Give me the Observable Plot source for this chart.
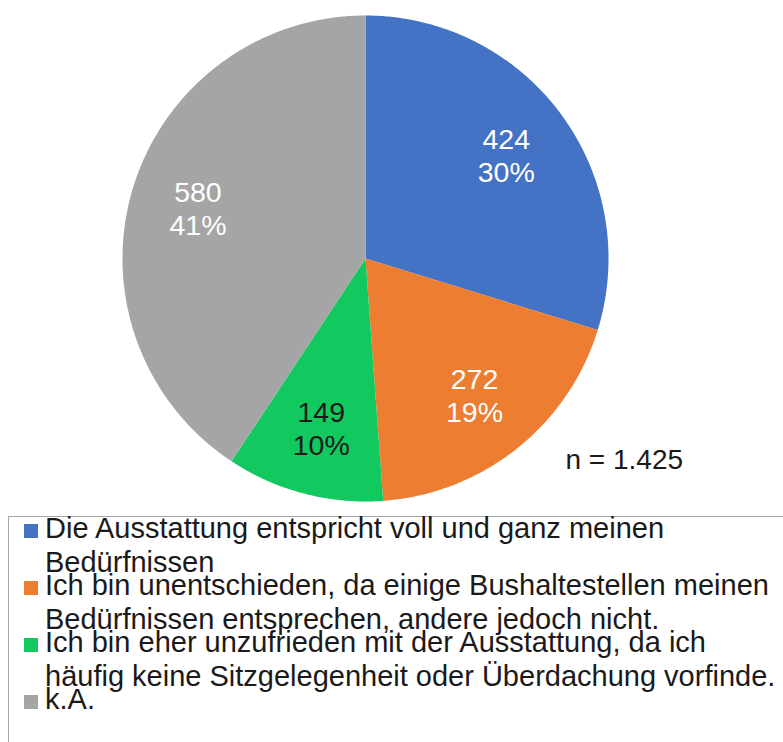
<!DOCTYPE html>
<html>
<head>
<meta charset="utf-8">
<script src="https://cdn.jsdelivr.net/npm/d3@7"></script>
<script src="https://cdn.jsdelivr.net/npm/@observablehq/plot@0.6"></script>
<style>
  html, body { margin: 0; padding: 0; background: #fff; }
  #wrap { position: relative; width: 783px; height: 742px; overflow: hidden; font-family: "Liberation Sans", Arial, sans-serif; }
  #legendBox { position: absolute; left: 8px; top: 516px; width: 800px; height: 240px; border: 1px solid #a6a6a6; box-sizing: border-box; }
  #legend { position: absolute; left: 10px; top: 511px; width: 800px; }
  .item { position: relative; padding-left: 35px; font-size: 29px; line-height: 34px; color: #1a1a1a; white-space: pre; margin-bottom: -11px; }
  .sw { position: absolute; left: 14px; top: 13px; width: 14px; height: 14px; }
</style>
</head>
<body>
<div id="wrap"></div>
<script>
const categories = [
  "Die Ausstattung entspricht voll und ganz meinen\nBedürfnissen",
  "Ich bin unentschieden, da einige Bushaltestellen meinen\nBedürfnissen entsprechen, andere jedoch nicht.",
  "Ich bin eher unzufrieden mit der Ausstattung, da ich\nhäufig keine Sitzgelegenheit oder Überdachung vorfinde.",
  "k.A."
];
const values = [424, 272, 149, 580];
const colors = ["#4472C4", "#ED7D31", "#12C95F", "#A5A5A5"];
const labelColors = ["#ffffff", "#ffffff", "#1a1a1a", "#ffffff"];
const caption = "n = 1.425";

const total = d3.sum(values);
const rows = values.map((v, i) => ({key: i, cat: categories[i], value: v}));
const arcs = d3.pie().sort(null).value(d => d.value).startAngle(0).endAngle(2 * Math.PI)(rows);

// polygon outline of each slice (center + arc)
const pts = [];
arcs.forEach(a => {
  pts.push({key: a.data.key, x: 0, y: 0});
  const n = Math.max(2, Math.ceil((a.endAngle - a.startAngle) / (Math.PI / 360)));
  for (let j = 0; j <= n; j++) {
    const t = a.startAngle + (a.endAngle - a.startAngle) * j / n;
    pts.push({key: a.data.key, x: Math.sin(t), y: Math.cos(t)});
  }
});

const labels = arcs.map(a => {
  const m = (a.startAngle + a.endAngle) / 2;
  const r = 0.72;
  return {
    key: a.data.key,
    x: r * Math.sin(m),
    y: r * Math.cos(m),
    text: `${a.data.value}\n${Math.round(a.data.value / total * 100)}%`
  };
});

const plot = Plot.plot({
  width: 783,
  height: 510,
  marginLeft: 122,
  marginRight: 175,
  marginTop: 15,
  marginBottom: 9,
  x: {domain: [-1, 1], axis: null},
  y: {domain: [-1, 1], axis: null},
  color: {domain: d3.range(values.length), range: colors},
  style: {fontFamily: "Liberation Sans, Arial, sans-serif", background: "white"},
  marks: [
    Plot.line(pts, {x: "x", y: "y", z: "key", fill: "key", stroke: "none", curve: "linear"}),
    Plot.text(labels, {x: "x", y: "y", text: "text", fill: d => labelColors[d.key], fontSize: 28.5, lineHeight: 1.16}),
    Plot.text([caption], {frameAnchor: "bottom-right", text: d => d, textAnchor: "start", dx: -43, dy: -33, fontSize: 28, fill: "#1a1a1a"})
  ]
});

const wrap = document.getElementById("wrap");
wrap.appendChild(plot);

const box = document.createElement("div");
box.id = "legendBox";
wrap.appendChild(box);

const legend = document.createElement("div");
legend.id = "legend";
categories.forEach((c, i) => {
  const it = document.createElement("div");
  it.className = "item";
  const sw = document.createElement("span");
  sw.className = "sw";
  sw.style.background = colors[i];
  it.appendChild(sw);
  it.appendChild(document.createTextNode(c));
  legend.appendChild(it);
});
wrap.appendChild(legend);
</script>
</body>
</html>
